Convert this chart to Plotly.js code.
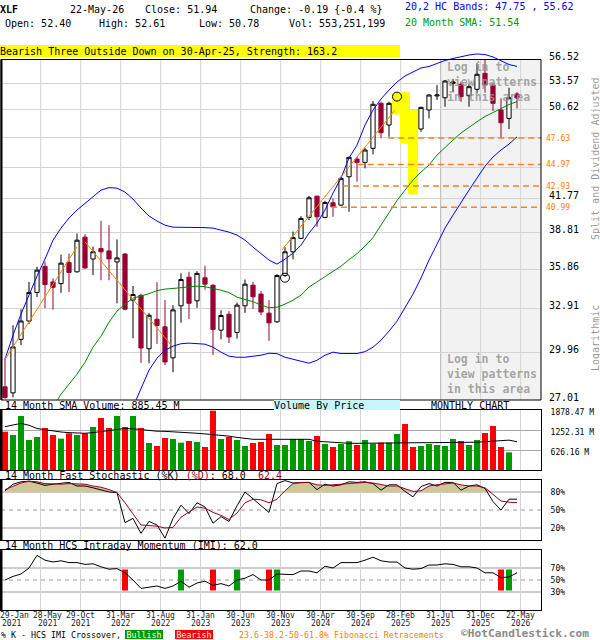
<!DOCTYPE html>
<html>
<head>
<meta charset="utf-8">
<script src="https://cdn.plot.ly/plotly-3.0.1.min.js"></script>
<style>
html,body{margin:0;padding:0;background:#fff;overflow:hidden}
#chart{width:600px;height:640px}
</style>
</head>
<body>
<div id="chart"></div>
<script>
// ================= DATA =================
const months = ['Jan-21','Feb-21','Mar-21','Apr-21','May-21','Jun-21','Jul-21','Aug-21','Sep-21','Oct-21','Nov-21','Dec-21',
 'Jan-22','Feb-22','Mar-22','Apr-22','May-22','Jun-22','Jul-22','Aug-22','Sep-22','Oct-22','Nov-22','Dec-22',
 'Jan-23','Feb-23','Mar-23','Apr-23','May-23','Jun-23','Jul-23','Aug-23','Sep-23','Oct-23','Nov-23','Dec-23',
 'Jan-24','Feb-24','Mar-24','Apr-24','May-24','Jun-24','Jul-24','Aug-24','Sep-24','Oct-24','Nov-24','Dec-24',
 'Jan-25','Feb-25','Mar-25','Apr-25','May-25','Jun-25','Jul-25','Aug-25','Sep-25','Oct-25','Nov-25','Dec-25',
 'Jan-26','Feb-26','Mar-26','Apr-26','May-26'];

const open = [27.79,27.43,30.80,32.05,34.09,36.07,34.88,34.75,36.37,35.65,38.43,36.65,37.49,37.30,36.42,37.05,33.53,33.88,30.18,32.17,
 31.65,29.59,33.12,35.24,33.48,35.19,34.63,31.42,32.52,31.26,33.12,34.63,33.97,32.60,31.99,35.37,37.23,38.33,40.11,42.00,
 40.11,41.40,41.19,43.80,45.51,45.18,46.58,51.35,48.99,50.61,52.36,49.63,48.57,50.61,52.17,51.97,53.62,53.51,52.20,52.93,
 54.80,53.42,50.61,49.70,52.40];
const high = [29.57,31.76,32.88,34.88,36.04,36.44,35.14,37.00,37.08,38.73,38.67,37.66,39.82,39.44,38.24,37.13,34.57,34.00,32.62,34.86,
 33.53,33.17,35.54,35.65,35.70,36.12,34.70,32.81,32.74,33.35,35.06,34.89,34.20,33.53,35.46,37.61,38.90,40.22,42.03,42.02,
 41.58,41.80,43.80,45.74,45.74,46.64,51.60,51.53,51.53,52.47,52.59,50.61,50.97,52.36,53.42,54.01,54.12,53.81,53.51,56.00,
 56.40,53.62,51.91,53.11,52.61];
const low = [27.08,27.17,30.42,31.85,33.76,32.94,32.85,34.06,34.13,35.60,35.90,35.40,35.01,35.01,33.30,32.80,30.87,29.27,29.24,30.50,
 29.12,28.68,31.93,32.19,32.98,34.30,29.78,30.80,30.55,30.85,32.62,32.90,32.45,30.70,31.92,35.26,36.63,38.27,39.88,39.30,
 40.02,40.16,41.13,40.60,43.33,44.60,45.97,47.60,47.76,50.14,47.08,42.16,48.28,49.70,51.72,50.97,52.59,51.52,50.97,52.47,
 52.65,50.50,47.60,48.57,50.78];
const close = [27.16,30.30,32.05,34.09,35.78,34.68,34.47,36.33,35.60,38.18,35.95,37.23,37.23,36.66,36.74,32.88,33.94,30.23,32.45,31.74,
 29.33,32.83,35.06,33.30,35.53,34.71,31.47,32.43,30.96,33.17,34.71,33.78,32.68,31.92,35.37,37.23,38.39,40.02,41.85,40.16,
 41.43,41.04,43.65,45.68,45.18,46.41,51.24,48.18,51.35,52.28,49.70,48.57,50.90,52.28,52.28,53.89,53.77,52.09,53.23,54.68,
 53.42,51.35,49.23,51.97,51.94];

const upperBand = [29.50,31.08,32.53,33.96,35.32,36.65,38.18,39.19,40.06,40.75,41.37,42.00,42.55,42.78,42.73,42.37,41.73,40.93,40.23,39.79,
 39.44,39.27,39.27,39.27,39.27,39.23,39.19,39.02,38.85,38.60,38.18,37.61,37.05,36.57,36.25,36.64,37.12,37.77,38.77,39.62,
 40.75,42.28,43.67,45.61,46.91,48.99,50.61,51.83,52.85,53.77,54.48,54.95,55.43,55.61,55.97,56.34,56.58,56.83,57.01,57.14,
 57.07,56.77,56.28,55.85,55.62];
const lowerBand = [null,null,null,null,null,null,null,null,null,null,null,null,null,null,null,null,26.60,27.71,28.81,29.57,
 30.09,30.35,30.51,30.55,30.51,30.48,30.28,29.96,29.70,29.63,29.63,29.70,29.76,29.89,29.86,29.63,29.50,29.40,29.25,29.44,
 29.76,29.96,29.87,29.87,29.87,29.99,30.28,30.75,31.35,32.04,33.02,33.97,35.17,36.57,37.85,39.19,40.31,41.46,42.55,43.67,
 44.82,45.71,46.41,47.01,47.75];
const sma20 = [null,null,null,null,null,null,26.59,27.35,27.95,28.56,29.31,30.28,31.01,31.97,32.74,33.24,33.67,33.82,34.00,34.23,
 34.34,34.39,34.46,34.54,34.56,34.52,34.41,34.26,34.08,33.75,33.57,33.42,33.17,32.99,33.02,33.24,33.53,33.89,34.49,34.89,
 35.28,35.65,36.09,36.60,37.08,37.69,38.39,39.45,40.57,41.60,42.55,43.49,44.25,44.92,45.91,46.71,47.42,48.15,48.78,49.34,
 49.90,50.33,50.83,51.21,51.54];

// HCS trend (zig-zag) segments: month position / price
const zigX = [0, 9, null, 10, 20.8, null, 34.6, 48.75];
const zigY = [29.5, 37.63, null, 38.04, 30.41, null, 37.37, 50.61];

// Fibonacci retracement levels and the month where each dashed line starts
const fibLevels = [47.63, 44.97, 42.93, 40.99];
const fibStart  = [47.9, 44.1, 42.25, 40.75];

// Pattern: Bearish Three Outside Down (highlighted months) and circle marks
const patternIdx = [49, 50, 51];
const circleX = [35, 49];
const circleY = [35.20, 52.1];

// Volume by price (relative volume per price band)
const vbpEdges  = [27.01, 29.96, 32.91, 35.86, 38.81, 41.77, 44.72, 47.67, 50.62, 53.57, 56.52];
const vbpVolume = [33, 192, 232, 167, 55, 27, 36, 73, 154, 35];

// Monthly volume (millions) and its 14 month SMA
const volume = [1199,1096,1691,939,1033,1315,1096,981,1148,1096,1148,1346,1628,1315,1691,1346,1691,1315,845,751,
 1002,971,856,908,877,720,1857,971,1033,939,751,845,877,1127,783,783,971,971,908,1065,
 814,720,814,900,783,939,824,856,856,1127,1440,720,751,814,783,751,971,908,783,939,
 1158,1378,720,553];
const volSma = [1356,1400,1460,1400,1300,1260,1220,1190,1170,1155,1150,1170,1200,1230,1280,1300,1290,1260,1230,1215,
 1210,1200,1190,1170,1150,1130,1110,1096,1060,1020,985,961,961,961,961,961,961,961,961,900,
 880,860,840,836,836,840,845,855,855,855,855,855,855,855,855,855,855,855,860,870,
 886,905,925,935,885];

// 14 month fast stochastic
const stochK = [82,93,97,98,95,91,93,94,96,90,90,87,84,80,79,29,36,11,31,25,3,36,58,44,62,55,28,39,31,57,
 80,69,58,46,94,99,95,96,96,84,93,90,92,97,96,97,94,83,92,92,81,72,89,94,90,96,96,83,90,92,86,64,50,68,68];
const stochD = [84,90,95,98,97,94,93,93,94,94,93,90,88,84,79,62,44,25,24,23,20,21,38,46,55,53,46,41,34,45,
 62,68,67,62,68,82,94,96,96,92,91,92,93,94,95,96,95,92,90,90,85,81,82,90,92,94,95,92,90,90,87,76,65,63,62.4];

// 14 month HCS intraday momentum and crossovers
const imi = [50,56,60,70,91,83,80,82,79,79,76,77,72,68,69,62,50,36,38,40,36,40,48,38,45,48,41,44,40,50,
 53,59,50,50,60,59,59,65,65,62,73,70,79,79,79,83,88,82,80,80,70,68,69,75,75,77,76,72,72,70,62,62,54,55,62];
const crossBear = [15, 26, 33, 62];
const crossBull = [22, 29, 34, 63];

// Axis tick labels
const priceTicks = [27.01, 29.96, 32.91, 35.86, 38.81, 41.77, 44.72, 47.67, 50.62, 53.57, 56.52];
const priceTickText = ['27.01','29.96','32.91','35.86','38.81','41.77','','','50.62','53.57','56.52'];
const volTicks = [626.16, 1252.31, 1878.47];
const volTickText = ['626.16 M','1252.31 M','1878.47 M'];
const dateTop = ['29-Jan','28-May','29-Oct','31-Mar','31-Aug','31-Jan','30-Jun','30-Nov','30-Apr','30-Sep','28-Feb','31-Jul','31-Dec','22-May'];
const dateBottom = ['2021','2021','2021','2022','2022','2023','2023','2023','2024','2024','2025','2025','2025','2026'];

// ================= LAYOUT / STYLE =================
const MONO = 'DejaVu Sans Mono, monospace';
const W = 600, H = 640, ML = 1, MR = 59, PW = W - ML - MR;
const pX = px => (px - ML) / PW;
const pY = py => 1 - py / H;
const XMIN = -0.5, XMAX = 67;
const gridX = [4.46, 9.46, 14.46, 19.46, 24.46, 29.46, 34.46, 39.46, 44.46, 49.46, 54.46, 59.46, 64.46];
const idx = months.map((m, i) => i);

// main log axis: 56.52 gridline at y=59px, 27.01 at y=400px, plot drawn up to y=48px
const MAIN_TOP_PX = 48, FRAME_TOP_PX = 59.5, MAIN_BOT_PX = 400;
const decPx = (400 - 59) / (Math.log10(56.52) - Math.log10(27.01));
const yRange = [Math.log10(27.01), Math.log10(56.52) + (59 - MAIN_TOP_PX) / decPx];

const MAROON = '#990033', GREEN = '#009900', RED = '#ff0000';
const CYAN = '#c8f4fc';
const GRID = '#d3d3d3';

const traces = [];
// helper for volume-by-price axis
traces.push({type:'scatter', x: vbpVolume, y: vbpEdges.slice(0,-1).map((e,k)=>Math.sqrt(e*vbpEdges[k+1])),
  xaxis:'x5', yaxis:'y', mode:'markers', marker:{opacity:0}, hoverinfo:'skip'});
// pattern highlight
const hlX = [], hlY = [];
patternIdx.forEach(i => { hlX.push(i, i, null); hlY.push(low[i], high[i], null); });
traces.push({type:'scatter', x:hlX, y:hlY, mode:'lines', line:{color:'#ffff00', width:10}, hoverinfo:'skip', xaxis:'x', yaxis:'y'});
// candles
traces.push({type:'candlestick', x:idx, open:open, high:high, low:low, close:close, xaxis:'x', yaxis:'y',
  increasing:{line:{color:'#000000', width:1}, fillcolor:'#ffffff'},
  decreasing:{line:{color:MAROON, width:1}, fillcolor:MAROON},
  whiskerwidth:0, hoverinfo:'skip'});
// bands & sma
traces.push({type:'scatter', x:idx, y:upperBand, mode:'lines', line:{color:'#0000ff', width:1}, xaxis:'x', yaxis:'y', hoverinfo:'skip'});
traces.push({type:'scatter', x:idx, y:lowerBand, mode:'lines', line:{color:'#0000ff', width:1}, xaxis:'x', yaxis:'y', hoverinfo:'skip'});
traces.push({type:'scatter', x:idx, y:sma20, mode:'lines', line:{color:'#008800', width:1}, xaxis:'x', yaxis:'y', hoverinfo:'skip'});
// trend lines
traces.push({type:'scatter', x:zigX, y:zigY, mode:'lines', line:{color:'#ff8000', width:1}, xaxis:'x', yaxis:'y', hoverinfo:'skip'});
// fib lines
const fx = [], fy = [];
fibLevels.forEach((v, k) => { fx.push(fibStart[k], XMAX, null); fy.push(v, v, null); });
traces.push({type:'scatter', x:fx, y:fy, mode:'lines', line:{color:'#ff8020', width:1.5, dash:'6px,4px'}, xaxis:'x', yaxis:'y', hoverinfo:'skip'});
// circles
traces.push({type:'scatter', x:circleX, y:circleY, mode:'markers', marker:{symbol:'circle-open', size:9, color:'#000', line:{width:1, color:'#000'}}, xaxis:'x', yaxis:'y', hoverinfo:'skip'});

// volume
const volColors = idx.map(i => close[i] >= open[i] ? GREEN : RED);
traces.push({type:'bar', x:idx, y:volume, width:0.75, marker:{color:volColors, line:{width:0}}, xaxis:'x2', yaxis:'y2', hoverinfo:'skip'});
traces.push({type:'scatter', x:idx, y:volSma, mode:'lines', line:{color:'#000', width:1}, xaxis:'x2', yaxis:'y2', hoverinfo:'skip'});

// stochastic
const STOCH_HI = 80;
traces.push({type:'scatter', x:idx, y:idx.map(() => STOCH_HI), mode:'lines', line:{width:0, color:'rgba(0,0,0,0)'}, xaxis:'x3', yaxis:'y3', hoverinfo:'skip'});
traces.push({type:'scatter', x:idx, y:stochD.map(v => Math.max(v, STOCH_HI)), mode:'lines', line:{width:0, color:'rgba(0,0,0,0)'},
  fill:'tonexty', fillcolor:'#d0c797', xaxis:'x3', yaxis:'y3', hoverinfo:'skip'});
traces.push({type:'scatter', x:idx, y:stochK, mode:'lines', line:{color:'#000', width:1}, xaxis:'x3', yaxis:'y3', hoverinfo:'skip'});
traces.push({type:'scatter', x:idx, y:stochD, mode:'lines', line:{color:MAROON, width:1}, xaxis:'x3', yaxis:'y3', hoverinfo:'skip'});

// IMI
const BAR_LO = 32.5, BAR_H = 35;
traces.push({type:'bar', x:crossBear, y:crossBear.map(() => BAR_H), base:BAR_LO, width:0.75, marker:{color:RED, line:{width:0}}, xaxis:'x4', yaxis:'y4', hoverinfo:'skip'});
traces.push({type:'bar', x:crossBull, y:crossBull.map(() => BAR_H), base:BAR_LO, width:0.75, marker:{color:GREEN, line:{width:0}}, xaxis:'x4', yaxis:'y4', hoverinfo:'skip'});
traces.push({type:'scatter', x:idx, y:imi, mode:'lines', line:{color:'#000', width:1}, xaxis:'x4', yaxis:'y4', hoverinfo:'skip'});

// ---------- shapes ----------
const shapes = [];
// log-in grey area
shapes.push({type:'rect', xref:'x', yref:'paper', x0:gridX[10], x1:XMAX, y0:pY(MAIN_BOT_PX), y1:pY(FRAME_TOP_PX), fillcolor:'#f2f2f2', line:{width:0}, layer:'below'});
// volume by price
vbpVolume.forEach((v, k) => {
  shapes.push({type:'rect', xref:'x5', yref:'y', x0:0, x1:v, y0:Math.log10(vbpEdges[k]), y1:Math.log10(vbpEdges[k+1]), fillcolor:CYAN, line:{width:0}, layer:'below'});
});
// main vertical grid
gridX.forEach((g, k) => {
  shapes.push({type:'line', xref:'x', yref:'paper', x0:g, x1:g, y0:pY(MAIN_BOT_PX), y1:pY(FRAME_TOP_PX), line:{color: k === 10 ? '#b4b4b4' : GRID, width:1}, layer:'between'});
});
// main frame
shapes.push({type:'rect', xref:'paper', yref:'paper', x0:0, x1:1, y0:pY(MAIN_BOT_PX), y1:pY(FRAME_TOP_PX), line:{color:'#000', width:1}, fillcolor:'rgba(0,0,0,0)', layer:'above'});
// thick left edges
[[MAIN_BOT_PX, FRAME_TOP_PX],[470,410],[540,480],[610,550]].forEach(([b,t]) => {
  shapes.push({type:'line', xref:'paper', yref:'paper', x0:pX(1.5), x1:pX(1.5), y0:pY(b), y1:pY(t), line:{color:'#000', width:2}, layer:'above'});
});
// stoch & imi level lines
[[ 'y3', 20, 'solid'], ['y3', 80, 'solid'], ['y3', 50, '4px,4px'], ['y4', 30, 'solid'], ['y4', 70, 'solid'], ['y4', 50, '4px,4px']].forEach(([ax, v, d]) => {
  shapes.push({type:'line', xref:'paper', yref:ax, x0:0, x1:1, y0:v, y1:v, line:{color:'#9a9a9a', width:1, dash:d}, layer:'between'});
});

// ---------- annotations ----------
function txt(text, xpx, ypx, o) {
  return Object.assign({text:text, xref:'paper', yref:'paper', x:pX(xpx), y:pY(ypx), xanchor:'left', yanchor:'middle',
    showarrow:false, borderpad:0, borderwidth:0, font:{family:MONO, size:10, color:'#000'}}, o || {});
}
const ann = [];
ann.push(txt('<b>XLF</b>', 0, 9.3));
ann.push(txt('22-May-26', 70, 9.3));
ann.push(txt('Close: 51.94', 145, 9.3));
ann.push(txt('Change: -0.19 {-0.4 %}', 249.5, 9.3));
ann.push(txt('Open: 52.40', 4.6, 24));
ann.push(txt('High: 52.61', 99, 24));
ann.push(txt('Low: 50.78', 199, 24));
ann.push(txt('Vol: 553,251,199', 289, 24));
ann.push(txt('20,2 HC Bands: 47.75 , 55.62', 405, 6.7, {font:{family:MONO, size:10, color:'#0000ff'}}));
ann.push(txt('20 Month SMA: 51.54', 405, 22.3, {font:{family:MONO, size:10, color:'#009900'}}));
ann.push(txt('Bearish Three Outside Down on 30-Apr-25, Strength: 163.2', 0, 51.5,
  {bgcolor:'#ffff00', width:400, height:12, align:'left'}));
// log-in overlay texts
ann.push(txt('<b>Log in to<br>view patterns<br>in this area</b>', 446.5, 82.3, {font:{family:MONO, size:11.5, color:'rgba(150,150,150,0.85)'}, align:'left'}));
ann.push(txt('<b>Log in to<br>view patterns<br>in this area</b>', 446.5, 374, {font:{family:MONO, size:11.5, color:'rgba(150,150,150,0.85)'}, align:'left'}));
// fib labels
fibLevels.forEach(v => {
  ann.push({text:v.toFixed(2), xref:'paper', yref:'y', x:pX(545), y:Math.log10(v), xanchor:'left', yanchor:'middle', showarrow:false,
    borderpad:0, font:{family:MONO, size:8, color:'#ff8000'}});
});
// vertical side notes
ann.push({text:'Split and Dividend Adjusted', xref:'paper', yref:'paper', x:pX(595), y:pY(159), textangle:-90, showarrow:false,
  xanchor:'center', yanchor:'middle', font:{family:MONO, size:10, color:'#999999'}});
ann.push({text:'Logarithmic', xref:'paper', yref:'paper', x:pX(595), y:pY(338), textangle:-90, showarrow:false,
  xanchor:'center', yanchor:'middle', font:{family:MONO, size:10, color:'#999999'}});
// panel labels
ann.push(txt('14 Month SMA Volume: 885.45 M', 4.6, 405.5));
ann.push(txt('Volume By Price', 273.6, 405, {bgcolor:CYAN, width:126, height:10, align:'left'}));
ann.push(txt('MONTHLY CHART', 430.5, 405.5));
ann.push(txt('14 Month Fast Stochastic (%K) <span style="color:#990033">(%D)</span>: 68.0&nbsp;&nbsp;<span style="color:#990033">62.4</span>', 4.6, 475.5));
ann.push(txt('14 Month HCS Intraday Momentum (IMI): 62.0', 4.6, 545));
// date labels
const DATE_FONT = {family:MONO, size:8, color:'#222'};
const DATE_Y1 = 615.8, DATE_Y2 = 623.6;
dateTop.forEach((d, k) => {
  if (k === 0) {
    ann.push(txt(d, 0, DATE_Y1, {font:DATE_FONT}));
    ann.push(txt(dateBottom[k], 2, DATE_Y2, {font:DATE_FONT}));
  } else {
    const g = gridX[k - 1];
    const shiftPx = (k === 1) ? 7 : 0;
    ann.push({text:d, xref:'x', yref:'paper', x:g, y:pY(DATE_Y1), xanchor:'center', yanchor:'middle', xshift:shiftPx, showarrow:false, borderpad:0, font:DATE_FONT});
    ann.push({text:dateBottom[k], xref:'x', yref:'paper', x:g, y:pY(DATE_Y2), xanchor:'center', yanchor:'middle', xshift:shiftPx, showarrow:false, borderpad:0, font:DATE_FONT});
  }
});
// footer
ann.push(txt('% K - HCS IMI Crossover,', 0.5, 634.5, {font:{family:MONO, size:8.3, color:'#000'}}));
ann.push(txt('Bullish', 125, 634.5, {font:{family:MONO, size:8.3, color:'#fff'}, bgcolor:GREEN, width:38, height:9, align:'center'}));
ann.push(txt('Bearish', 175, 634.5, {font:{family:MONO, size:8.3, color:'#fff'}, bgcolor:RED, width:38, height:9, align:'center'}));
ann.push(txt('23.6-38.2-50-61.8% Fibonacci Retracements', 239, 634.5, {font:{family:MONO, size:8.3, color:'#ff8000'}}));
ann.push(txt('<b>©HotCandlestick.com</b>', 461, 633.6, {font:{family:MONO, size:11.2, color:'#8a8a8a'}}));

// ---------- axes ----------
function subX(anchor) {
  return {domain:[0,1], anchor:anchor, range:[XMIN, XMAX], tickmode:'array', tickvals:gridX, showticklabels:false, ticks:'',
    showgrid:true, gridcolor:GRID, gridwidth:1, zeroline:false, showline:true, mirror:true, linecolor:'#000', linewidth:1, fixedrange:true};
}
function subY(domPx, range, vals, text, shift) {
  return {domain:[pY(domPx[0]), pY(domPx[1])], range:range, side:'right', tickmode:'array', tickvals:vals, ticktext:text,
    ticks:'', zeroline:false, showline:true, mirror:true, linecolor:'#000', linewidth:1, fixedrange:true,
    tickfont:{family:MONO, size:8, color:'#000'}, ticklabelstandoff:7, ticklabelshift:shift};
}
const layout = {
  width:W, height:H, margin:{l:ML, r:MR, t:0, b:0, pad:0}, paper_bgcolor:'#ffffff', plot_bgcolor:'#ffffff',
  showlegend:false, boxgap:0.25, hovermode:false, font:{family:MONO, size:10, color:'#000'},
  xaxis:{domain:[0,1], anchor:'y', range:[XMIN, XMAX], showgrid:false, zeroline:false, showticklabels:false, ticks:'',
    rangeslider:{visible:false}, fixedrange:true, showline:false},
  yaxis:{domain:[pY(MAIN_BOT_PX), pY(MAIN_TOP_PX)], anchor:'x', type:'log', range:yRange, side:'right', tickmode:'array',
    tickvals:priceTicks, ticktext:priceTickText, showgrid:true, gridcolor:GRID, gridwidth:1, zeroline:false, ticks:'',
    tickfont:{family:MONO, size:10, color:'#000'}, ticklabelshift:-3, ticklabelstandoff:7, showline:false, fixedrange:true},
  xaxis5:{overlaying:'x', anchor:'y', range:[0, PW], visible:false, fixedrange:true},
  xaxis2:subX('y2'),
  yaxis2:Object.assign(subY([470,410], [0,1878.5], volTicks, volTickText, 2), {anchor:'x2', showgrid:true, gridcolor:'#a8a8a8', gridwidth:1}),
  xaxis3:subX('y3'),
  yaxis3:Object.assign(subY([540,480], [0,100], [20,50,80], ['20%','50%','80%'], 0), {anchor:'x3', showgrid:false}),
  xaxis4:subX('y4'),
  yaxis4:Object.assign(subY([610,550], [0,100], [30,50,70], ['30%','50%','70%'], 0), {anchor:'x4', showgrid:false}),
  shapes:shapes,
  annotations:ann
};

Plotly.newPlot('chart', traces, layout, {staticPlot:true, displayModeBar:false, responsive:false});
</script>
</body>
</html>
